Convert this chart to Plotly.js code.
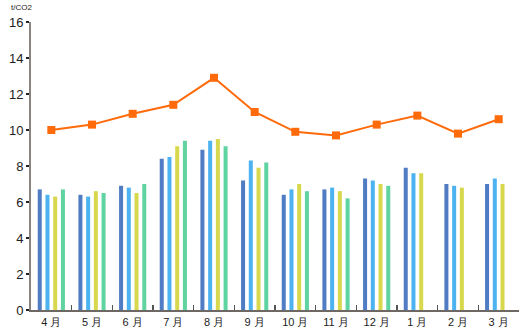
<!DOCTYPE html>
<html><head><meta charset="utf-8">
<script src="https://cdn.plot.ly/plotly-3.0.1.min.js"></script>
<style>html,body{margin:0;padding:0;background:#fff}#c{width:521px;height:327px}</style>
</head><body><div id="c"></div>
<script>
var months = ['4 月','5 月','6 月','7 月','8 月','9 月','10 月','11 月','12 月','1 月','2 月','3 月'];
var series1 = [6.7,6.4,6.9,8.4,8.9,7.2,6.4,6.7,7.3,7.9,7.0,7.0];
var series2 = [6.4,6.3,6.8,8.5,9.4,8.3,6.7,6.8,7.2,7.6,6.9,7.3];
var series3 = [6.3,6.6,6.5,9.1,9.5,7.9,7.0,6.6,7.0,7.6,6.8,7.0];
var series4 = [6.7,6.5,7.0,9.4,9.1,8.2,6.6,6.2,6.9,null,null,null];
var lineVals = [10.0,10.3,10.9,11.4,12.9,11.0,9.9,9.7,10.3,10.8,9.8,10.6];
var yTicks = [0,2,4,6,8,10,12,14,16];
var colors = ['#4f7cc2','#4cb3f0','#d8d84e','#5fd3a0'];

var traces = [series1,series2,series3,series4].map(function(v,i){
  return {type:'bar', x:months, y:v, marker:{color:colors[i]}, hoverinfo:'skip'};
});
traces.push({type:'scatter', mode:'lines+markers', x:months, y:lineVals,
  line:{color:'#ff6a0a', width:2}, marker:{color:'#ff6a0a', symbol:'square', size:8},
  hoverinfo:'skip'});

var layout = {
  width:521, height:327,
  margin:{l:31, r:2, t:22, b:17},
  paper_bgcolor:'#fff', plot_bgcolor:'#fff',
  showlegend:false,
  barmode:'group', bargap:0.24, bargroupgap:0.48,
  font:{family:'Liberation Sans, Arial, sans-serif', color:'#222'},
  xaxis:{type:'category', range:[-0.5, 11.5], tickson:'boundaries', ticks:'inside', ticklen:5, tickwidth:1.5,
    tickcolor:'#555', showline:true, linecolor:'#6e6864', linewidth:1.5,
    showgrid:false, zeroline:false, tickfont:{size:11, color:'#222'}, ticklabelstandoff:1},
  yaxis:{range:[0,16], tickvals:yTicks, ticks:'outside', ticklen:3, tickwidth:1.5, tickcolor:'#222',
    showline:true, linecolor:'#8a8480', linewidth:2, showgrid:false, zeroline:false,
    tickfont:{size:13, color:'#222'}, fixedrange:true},
  yaxis2:{overlaying:'y', range:[0,16], tickvals:yTicks, ticks:'inside', ticklen:7, tickwidth:1.5,
    tickcolor:'#222', showticklabels:false, showline:false, showgrid:false, zeroline:false, side:'left'},
  annotations:[{text:'t/CO2', xref:'paper', yref:'paper', x:-31/488, y:1+22/288, xanchor:'left', yanchor:'top',
    showarrow:false, font:{size:8, color:'#222'}, xshift:9, yshift:-1}]
};
Plotly.newPlot('c', traces, layout, {staticPlot:true, displayModeBar:false});
</script></body></html>
